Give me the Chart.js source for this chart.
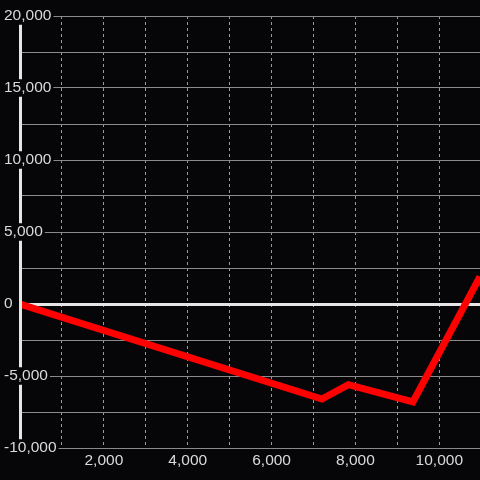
<!DOCTYPE html>
<html>
<head>
<meta charset="utf-8">
<script src="https://cdn.jsdelivr.net/npm/chart.js@4.4.0/dist/chart.umd.min.js"></script>
<style>
  html, body { margin: 0; padding: 0; background: #060609; }
  canvas { display: block; }
</style>
</head>
<body>
<canvas id="lineChart" width="480" height="480"></canvas>
<script>
// values
var xValues = [0, 7200, 7830, 9370, 10970];
var yValues = [0, -6600, -5600, -6800, 1900];
var xGridTicks = [0, 1000, 2000, 3000, 4000, 5000, 6000, 7000, 8000, 9000, 10000];
var xLabelTicks = [2000, 4000, 6000, 8000, 10000];
var yLabelTicks = [-10000, -5000, 0, 5000, 10000, 15000, 20000];

var bg = '#060609';
var points = xValues.map(function (x, i) { return { x: x, y: yValues[i] }; });

Chart.defaults.font.family = '"Liberation Sans", Arial, sans-serif';

var ctxLine = document.getElementById('lineChart').getContext('2d');
var myChart = new Chart(ctxLine, {
  type: 'line',
  data: {
    datasets: [{
      data: points,
      borderColor: '#ff0000',
      borderWidth: 7,
      pointRadius: 0,
      tension: 0,
      fill: false,
      clip: 0
    }]
  },
  options: {
    responsive: false,
    animation: false,
    layout: { padding: { top: 16, right: 0, bottom: 7.4, left: 0 } },
    plugins: {
      legend: { display: false },
      tooltip: { enabled: false }
    },
    scales: {
      x: {
        type: 'linear',
        min: 0,
        max: 10970,
        afterBuildTicks: function (scale) {
          scale.ticks = xGridTicks.map(function (v) { return { value: v }; });
        },
        grid: {
          z: -2,
          drawTicks: false,
          lineWidth: 1,
          color: function (c) { return c.tick && c.tick.value === 0 ? 'rgba(0,0,0,0)' : '#9a9a9a'; }
        },
        border: { display: false, dash: [3, 3] },
        ticks: {
          autoSkip: false,
          maxRotation: 0,
          padding: 3,
          color: '#dadada',
          font: { size: 15.5 },
          callback: function (v) { return xLabelTicks.indexOf(v) >= 0 ? v.toLocaleString('en-US') : ''; }
        }
      },
      y: {
        type: 'linear',
        min: -10000,
        max: 20000,
        afterFit: function (scale) { scale.width = 20; },
        grid: {
          z: -1,
          drawTicks: false,
          color: function (c) { return c.tick && c.tick.value === 0 ? '#e6e6e6' : '#8a8a8a'; },
          lineWidth: function (c) { return c.tick && c.tick.value === 0 ? 3 : 1; }
        },
        border: { display: true, color: '#e6e6e6', width: 3, z: 1 },
        ticks: {
          stepSize: 2500,
          maxTicksLimit: 30,
          mirror: true,
          padding: -16,
          z: 1,
          color: '#dadada',
          font: { size: 15.5, lineHeight: 1 },
          showLabelBackdrop: function (c) { return c.tick && yLabelTicks.indexOf(c.tick.value) >= 0; },
          backdropColor: bg,
          backdropPadding: { top: 1, bottom: 1, left: 3, right: 2 },
          callback: function (v) { return yLabelTicks.indexOf(v) >= 0 ? v.toLocaleString('en-US') : ''; }
        }
      }
    }
  }
});
</script>
</body>
</html>
